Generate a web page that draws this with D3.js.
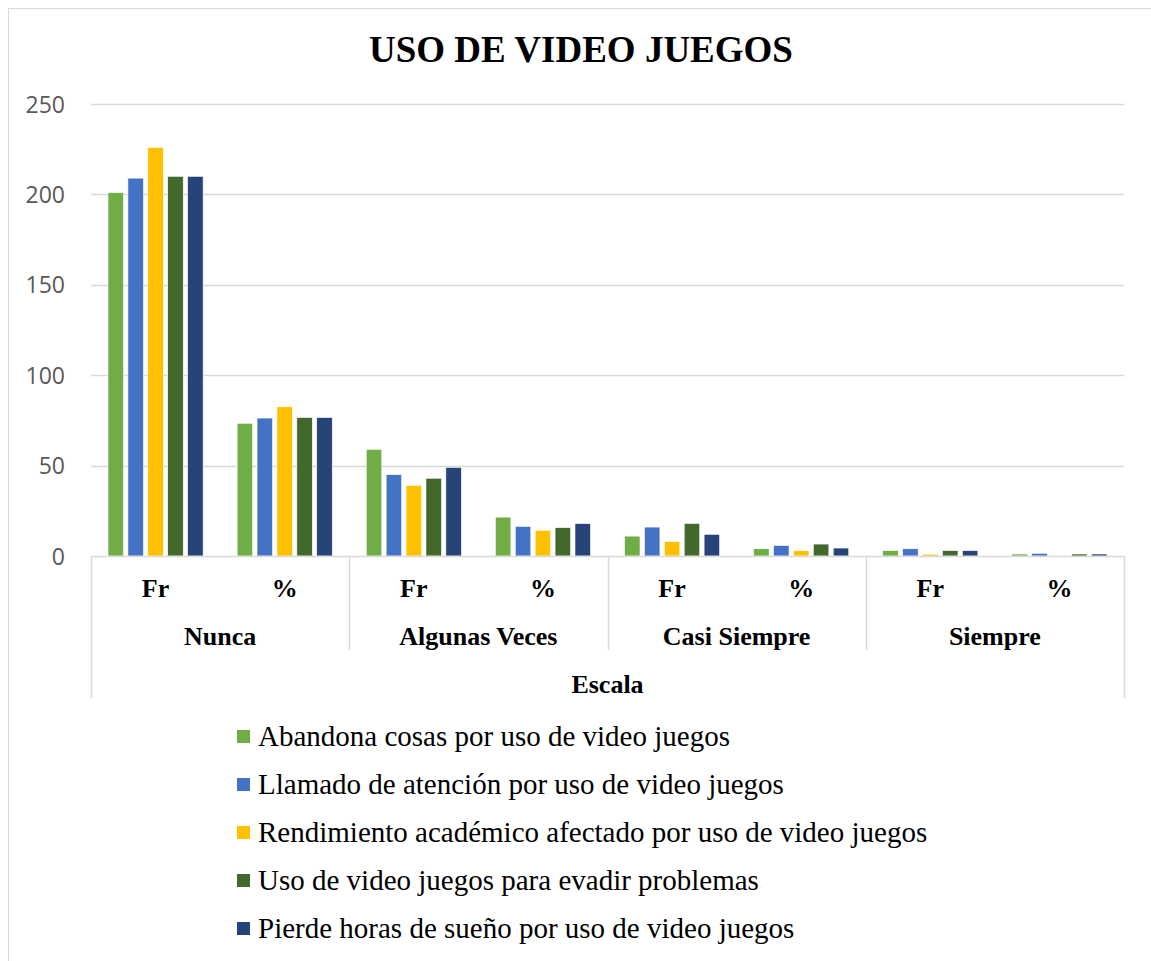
<!DOCTYPE html>
<html>
<head>
<meta charset="utf-8">
<script src="https://cdn.jsdelivr.net/npm/d3@7"></script>
<style>
  body { margin: 0; background: #fff; }
  svg { display: block; }
</style>
</head>
<body>
<svg id="chart"></svg>
<script>
// data
var groups = ["Nunca", "Algunas Veces", "Casi Siempre", "Siempre"];
var subs = ["Fr", "%"];
var seriesNames = [
  "Abandona cosas por uso de video juegos",
  "Llamado de atención por uso de video juegos",
  "Rendimiento académico afectado por uso de video juegos",
  "Uso de video juegos para evadir problemas",
  "Pierde horas de sueño por uso de video juegos"
];
var colors = ["#70AD47", "#4472C4", "#FFC000", "#43682B", "#264478"];
// one row per series, columns: Nunca Fr, Nunca %, AV Fr, AV %, CS Fr, CS %, S Fr, S %
var abandona  = [201, 73.4, 59, 21.5, 11, 4.0, 3, 1.1];
var llamado   = [209, 76.3, 45, 16.4, 16, 5.8, 4, 1.5];
var rendim    = [226, 82.5, 39, 14.2, 8, 2.9, 1, 0.4];
var evadir    = [210, 76.6, 43, 15.7, 18, 6.6, 3, 1.1];
var suenio    = [210, 76.6, 49, 17.9, 12, 4.4, 3, 1.1];
var yTicks = [0, 50, 100, 150, 200, 250];

var values = [abandona, llamado, rendim, evadir, suenio];

var W = 1151, H = 961;
var svg = d3.select("#chart").attr("width", W).attr("height", H);

// outer frame
svg.append("rect")
   .attr("x", 8.5).attr("y", 8.5)
   .attr("width", W - 8).attr("height", H)
   .attr("fill", "none").attr("stroke", "#d9d9d9");

var plotLeft = 91, plotRight = 1124, plotTop = 104, plotBottom = 556;

var y = d3.scaleLinear().domain([0, 250]).range([plotBottom, plotTop]);

var cats = [];
groups.forEach(function(g){
  subs.forEach(function(s){ cats.push(g + "|" + s); });
});

var x0 = d3.scaleBand().domain(cats).range([plotLeft, plotRight]);
var x1 = d3.scaleBand().domain(d3.range(seriesNames.length))
           .range([17, x0.bandwidth() - 17]).paddingInner(0.22);
var xg = d3.scaleBand().domain(groups).range([plotLeft, plotRight]);

var serif = "'Liberation Serif', 'Times New Roman', serif";

// title
svg.append("text")
   .attr("x", 581).attr("y", 62)
   .attr("text-anchor", "middle")
   .style("font-family", serif)
   .style("font-weight", "bold")
   .style("font-size", "37px")
   .text("USO DE VIDEO JUEGOS");

// gridlines + y labels
svg.append("g").selectAll("line")
   .data(yTicks.filter(function(d){ return d > 0; }))
   .enter().append("line")
   .attr("x1", plotLeft).attr("x2", plotRight)
   .attr("y1", function(d){ return Math.round(y(d)) + 0.5; })
   .attr("y2", function(d){ return Math.round(y(d)) + 0.5; })
   .attr("stroke", "#d9d9d9").attr("stroke-width", 1.5);

svg.append("g").selectAll("text")
   .data(yTicks)
   .enter().append("text")
   .attr("x", 65).attr("y", function(d){ return y(d) + 8.5; })
   .attr("text-anchor", "end")
   .style("font-family", "'Open Sans', 'Liberation Sans', sans-serif")
   .style("font-size", "23px")
   .attr("fill", "#595959")
   .text(function(d){ return d; });

// bars
var catG = svg.append("g").selectAll("g")
   .data(cats)
   .enter().append("g")
   .attr("transform", function(d){ return "translate(" + x0(d) + ",0)"; });

catG.selectAll("rect")
   .data(function(d, ci){
     return values.map(function(v, si){ return {s: si, v: v[ci]}; });
   })
   .enter().append("rect")
   .attr("x", function(d){ return x1(d.s); })
   .attr("width", x1.bandwidth())
   .attr("y", function(d){ return y(d.v); })
   .attr("height", function(d){ return plotBottom - y(d.v); })
   .attr("fill", function(d){ return colors[d.s]; })
   .attr("stroke", "#fff").attr("stroke-width", 0.6);

// category axis
var ax = svg.append("g").attr("stroke", "#d9d9d9").attr("stroke-width", 1.5);
ax.append("line").attr("x1", plotLeft).attr("x2", plotRight)
  .attr("y1", plotBottom + 0.5).attr("y2", plotBottom + 0.5);
ax.selectAll(".inner")
  .data(groups.slice(1))
  .enter().append("line")
  .attr("class", "inner")
  .attr("x1", function(d){ return Math.round(xg(d)) + 0.5; })
  .attr("x2", function(d){ return Math.round(xg(d)) + 0.5; })
  .attr("y1", plotBottom).attr("y2", 650);
ax.selectAll(".outer")
  .data([plotLeft, plotRight])
  .enter().append("line")
  .attr("class", "outer")
  .attr("x1", function(d){ return d + 0.5; })
  .attr("x2", function(d){ return d + 0.5; })
  .attr("y1", plotBottom).attr("y2", 698);

svg.append("g").selectAll("text")
   .data(cats)
   .enter().append("text")
   .attr("x", function(d){ return x0(d) + x0.bandwidth() / 2; })
   .attr("y", 597)
   .attr("text-anchor", "middle")
   .style("font-family", serif).style("font-weight", "bold").style("font-size", "26px")
   .text(function(d){ return d.split("|")[1]; });

svg.append("g").selectAll("text")
   .data(groups)
   .enter().append("text")
   .attr("x", function(d){ return xg(d) + xg.bandwidth() / 2; })
   .attr("y", 645)
   .attr("text-anchor", "middle")
   .style("font-family", serif).style("font-weight", "bold").style("font-size", "26px")
   .text(function(d){ return d; });

svg.append("text")
   .attr("x", (plotLeft + plotRight) / 2).attr("y", 693)
   .attr("text-anchor", "middle")
   .style("font-family", serif).style("font-weight", "bold").style("font-size", "26px")
   .text("Escala");

// legend
var legend = svg.append("g").selectAll("g")
   .data(seriesNames)
   .enter().append("g")
   .attr("transform", function(d, i){ return "translate(237," + (737 + i * 48) + ")"; });

legend.append("rect")
   .attr("x", 0).attr("y", -7)
   .attr("width", 13).attr("height", 13)
   .attr("fill", function(d, i){ return colors[i]; });

legend.append("text")
   .attr("x", 21).attr("y", 9)
   .style("font-family", serif).style("font-size", "29px")
   .text(function(d){ return d; });
</script>
</body>
</html>
